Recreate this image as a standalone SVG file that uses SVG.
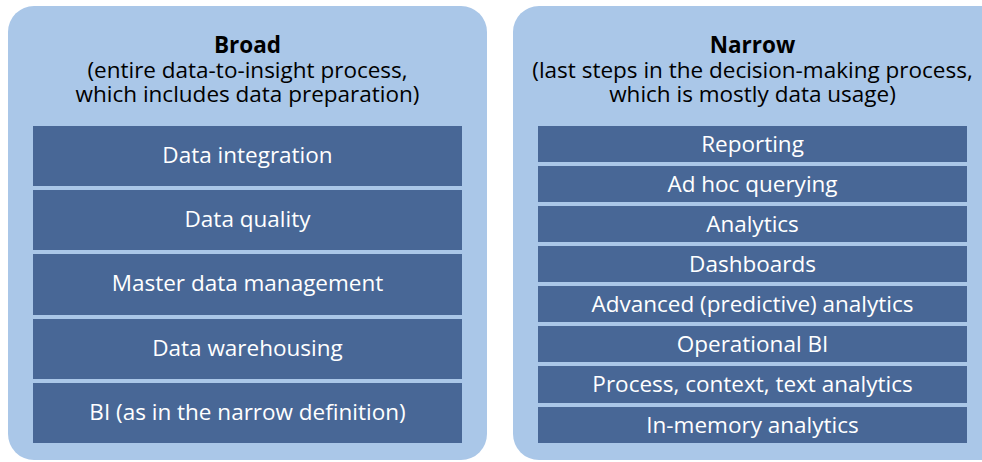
<svg xmlns="http://www.w3.org/2000/svg" width="982" height="462" viewBox="0 0 982 462">
  <style>
    .panel { fill: #aac7e8; }
    .box { fill: #486796; }
    .head { font-family: "Open Sans", "Liberation Sans", sans-serif; font-size: 22.5px; fill: #000; text-anchor: middle; }
    .title { font-weight: bold; }
    .label { font-family: "Open Sans", "Liberation Sans", sans-serif; font-size: 22.5px; fill: #fff; text-anchor: middle; }
  </style>
  <rect width="982" height="462" fill="#ffffff"/>

  <!-- Broad definition -->
  <g id="broad">
    <rect class="panel" x="8" y="6" width="479" height="454" rx="26"/>
    <text class="head title" x="247.5" y="53">Broad</text>
    <text class="head" x="247.5" y="78">(entire data-to-insight process,</text>
    <text class="head" x="247.5" y="102">which includes data preparation)</text>
  </g>
  <g id="broad-integration"><rect class="box" x="33" y="126" width="429" height="60"/><text class="label" x="247.5" y="163">Data integration</text></g>
  <g id="broad-quality"><rect class="box" x="33" y="190" width="429" height="60"/><text class="label" x="247.5" y="227">Data quality</text></g>
  <g id="broad-mdm"><rect class="box" x="33" y="254" width="429" height="61"/><text class="label" x="247.5" y="291">Master data management</text></g>
  <g id="broad-dw"><rect class="box" x="33" y="319" width="429" height="60"/><text class="label" x="247.5" y="356">Data warehousing</text></g>
  <g id="broad-bi"><rect class="box" x="33" y="383" width="429" height="60"/><text class="label" x="247.5" y="420">BI (as in the narrow definition)</text></g>

  <!-- Narrow definition -->
  <g id="narrow">
    <rect class="panel" x="513" y="6" width="500" height="454" rx="26"/>
    <text class="head title" x="752.5" y="53">Narrow</text>
    <text class="head" x="752.5" y="78">(last steps in the decision-making process,</text>
    <text class="head" x="752.5" y="102">which is mostly data usage)</text>
  </g>
  <g id="narrow-reporting"><rect class="box" x="538" y="126" width="429" height="36"/><text class="label" x="752.5" y="152">Reporting</text></g>
  <g id="narrow-adhoc"><rect class="box" x="538" y="166" width="429" height="36"/><text class="label" x="752.5" y="192">Ad hoc querying</text></g>
  <g id="narrow-analytics"><rect class="box" x="538" y="206" width="429" height="36"/><text class="label" x="752.5" y="232">Analytics</text></g>
  <g id="narrow-dashboards"><rect class="box" x="538" y="246" width="429" height="36"/><text class="label" x="752.5" y="272">Dashboards</text></g>
  <g id="narrow-advanced"><rect class="box" x="538" y="286" width="429" height="36"/><text class="label" x="752.5" y="312">Advanced (predictive) analytics</text></g>
  <g id="narrow-operational"><rect class="box" x="538" y="326" width="429" height="36"/><text class="label" x="752.5" y="352">Operational BI</text></g>
  <g id="narrow-process"><rect class="box" x="538" y="366" width="429" height="37"/><text class="label" x="752.5" y="392">Process, context, text analytics</text></g>
  <g id="narrow-inmemory"><rect class="box" x="538" y="407" width="429" height="36"/><text class="label" x="752.5" y="433">In-memory analytics</text></g>

  <g id="connectors"/>
</svg>
